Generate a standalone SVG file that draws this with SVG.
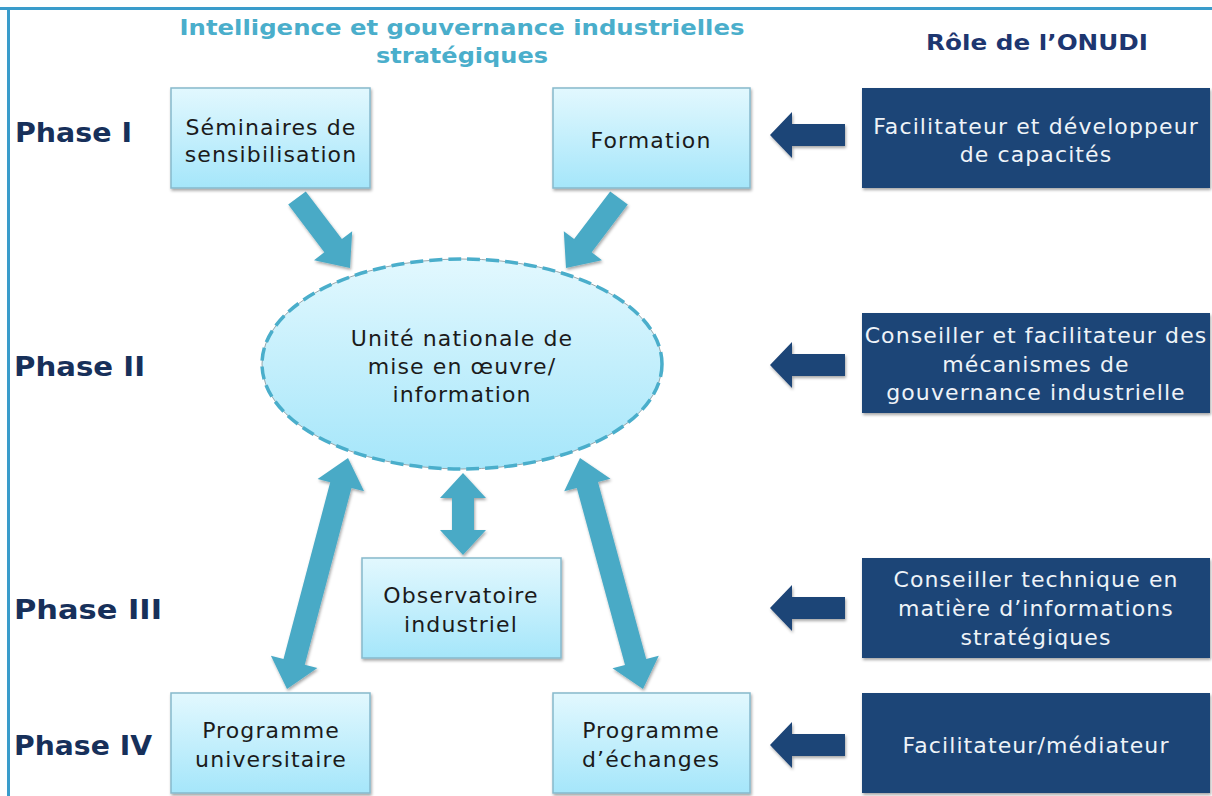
<svg xmlns="http://www.w3.org/2000/svg" width="1212" height="796" viewBox="0 0 1212 796">
<defs>
<linearGradient id="lb" x1="0" y1="0" x2="0" y2="1"><stop offset="0" stop-color="#e2f8fe"/><stop offset="1" stop-color="#a5e6fa"/></linearGradient>
<filter id="sh" x="-10%" y="-10%" width="125%" height="130%"><feDropShadow dx="1" dy="2" stdDeviation="1.6" flood-color="#000" flood-opacity="0.35"/></filter>
<style>
.lbox{fill:url(#lb);stroke:#86b9cc;stroke-width:1.5;filter:url(#sh)}
.dbox{fill:#1f4577;filter:url(#sh)}
.lt{font-family:"DejaVu Sans",Verdana,sans-serif;font-size:22px;letter-spacing:1.1px;fill:#1b1b1b;text-anchor:middle}
.dt{font-family:"DejaVu Sans",Verdana,sans-serif;font-size:22px;letter-spacing:1.1px;fill:#eef3f8;text-anchor:middle}
.ph{font-family:"DejaVu Sans",Verdana,sans-serif;font-size:27px;font-weight:bold;fill:#17305a}
.ta{fill:#4aaac6;filter:url(#sh)}
.da{fill:#1f4577;filter:url(#sh)}
</style>
</defs>
<rect width="1212" height="796" fill="#ffffff"/>
<path d="M0 8.5 H1212 M8.5 8.5 V796" stroke="#3a9ccb" stroke-width="3" fill="none"/>
<g id="title">
<text x="462" y="35" font-family="DejaVu Sans,Verdana,sans-serif" font-size="22" font-weight="bold" fill="#4aaecb" text-anchor="middle" textLength="565" lengthAdjust="spacingAndGlyphs">Intelligence et gouvernance industrielles</text>
<text x="462" y="63" font-family="DejaVu Sans,Verdana,sans-serif" font-size="22" font-weight="bold" fill="#4aaecb" text-anchor="middle" textLength="172" lengthAdjust="spacingAndGlyphs">stratégiques</text>
<text x="1037" y="50" font-family="DejaVu Sans,Verdana,sans-serif" font-size="22" font-weight="bold" fill="#1d3670" text-anchor="middle" textLength="222" lengthAdjust="spacingAndGlyphs">Rôle de l’ONUDI</text>
</g>
<g id="phases">
<text class="ph" x="15" y="142" textLength="117" lengthAdjust="spacingAndGlyphs">Phase I</text>
<text class="ph" x="14" y="376" textLength="131" lengthAdjust="spacingAndGlyphs">Phase II</text>
<text class="ph" x="14" y="619" textLength="148" lengthAdjust="spacingAndGlyphs">Phase III</text>
<text class="ph" x="14" y="755" textLength="138" lengthAdjust="spacingAndGlyphs">Phase IV</text>
</g>
<g id="connectors">
<polygon class="ta" points="288.2,204.6 305.8,191.4 341.9,239.1 352.2,231.2 350,268 314,260.2 324.3,252.3"/>
<polygon class="ta" points="627.8,204.6 610.2,191.4 574.1,239.1 563.8,231.2 566,268 602,260.2 591.7,252.3"/>
<polygon class="ta" points="348,458 317.6,478.9 330.2,482.3 283.5,659.1 270.9,655.8 287,689 317.4,668.1 304.8,664.7 351.5,487.9 364.1,491.2"/>
<polygon class="ta" points="580,458 564.2,491.3 576.8,487.9 625,664.9 612.5,668.3 643,689 658.8,655.7 646.2,659.1 598,482.1 610.5,478.7"/>
<polygon class="ta" points="463,473 486,498 474,498 474,530 486,530 463,555 440,530 452,530 452,498 440,498"/>
<polygon class="da" points="770,135 792,112 792,124 845,124 845,146 792,146 792,158"/>
<polygon class="da" points="770,365 792,342 792,354 845,354 845,376 792,376 792,388"/>
<polygon class="da" points="770,608 792,585 792,597 845,597 845,619 792,619 792,631"/>
<polygon class="da" points="770,745 792,722 792,734 845,734 845,756 792,756 792,768"/>
</g>
<g id="seminaires">
<rect class="lbox" x="171" y="88" width="199" height="100"/>
<text class="lt" x="271" y="135">Séminaires de</text>
<text class="lt" x="271" y="162">sensibilisation</text>
</g>
<g id="formation">
<rect class="lbox" x="553" y="88" width="197" height="100"/>
<text class="lt" x="651" y="148">Formation</text>
</g>
<g id="unite">
<ellipse cx="462" cy="364" rx="200" ry="105" fill="url(#lb)" stroke="#9aa8ad" stroke-width="1"/>
<ellipse cx="462" cy="364" rx="200" ry="105" fill="none" stroke="#4aaecb" stroke-width="3.5" stroke-dasharray="13 6"/>
<text class="lt" x="462" y="346">Unité nationale de</text>
<text class="lt" x="462" y="374">mise en œuvre/</text>
<text class="lt" x="462" y="402">information</text>
</g>
<g id="observatoire">
<rect class="lbox" x="362" y="558" width="199" height="100"/>
<text class="lt" x="461" y="603">Observatoire</text>
<text class="lt" x="461" y="632">industriel</text>
</g>
<g id="universitaire">
<rect class="lbox" x="171" y="693" width="199" height="100"/>
<text class="lt" x="271" y="738">Programme</text>
<text class="lt" x="271" y="767">universitaire</text>
</g>
<g id="echanges">
<rect class="lbox" x="553" y="693" width="197" height="100"/>
<text class="lt" x="651" y="738">Programme</text>
<text class="lt" x="651" y="767">d’échanges</text>
</g>
<g id="role1">
<rect class="dbox" x="862" y="88" width="348" height="100"/>
<text class="dt" x="1036" y="134">Facilitateur et développeur</text>
<text class="dt" x="1036" y="162">de capacités</text>
</g>
<g id="role2">
<rect class="dbox" x="862" y="313" width="348" height="100"/>
<text class="dt" x="1036" y="343">Conseiller et facilitateur des</text>
<text class="dt" x="1036" y="372">mécanismes de</text>
<text class="dt" x="1036" y="400">gouvernance industrielle</text>
</g>
<g id="role3">
<rect class="dbox" x="862" y="558" width="348" height="100"/>
<text class="dt" x="1036" y="587">Conseiller technique en</text>
<text class="dt" x="1036" y="616">matière d’informations</text>
<text class="dt" x="1036" y="645">stratégiques</text>
</g>
<g id="role4">
<rect class="dbox" x="862" y="693" width="348" height="100"/>
<text class="dt" x="1036" y="753">Facilitateur/médiateur</text>
</g>
</svg>
